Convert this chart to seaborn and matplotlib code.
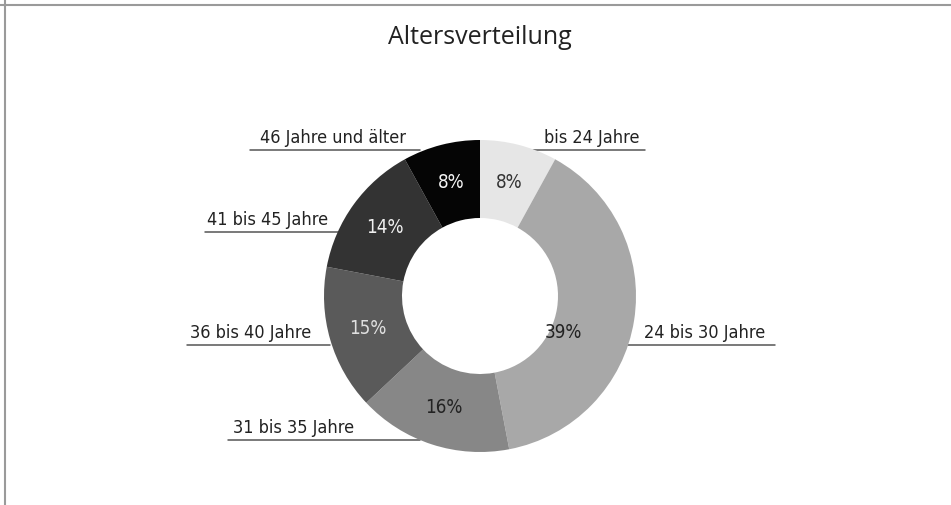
import matplotlib
matplotlib.use('Agg')
import matplotlib.pyplot as plt
from matplotlib.lines import Line2D
import seaborn as sns

# data
groups = ['bis 24 Jahre', '24 bis 30 Jahre', '31 bis 35 Jahre',
          '36 bis 40 Jahre', '41 bis 45 Jahre', '46 Jahre und älter']
shares = [8, 39, 16, 15, 14, 8]
slice_colors = ['#e6e6e6', '#a8a8a8', '#878787', '#5a5a5a', '#333333', '#050505']
pct_colors = ['#333333', '#222222', '#222222', '#e0e0e0', '#f0f0f0', '#f5f5f5']

sns.set_theme(style='white')
plt.rcParams['font.family'] = ['DejaVu Sans']
plt.rcParams['font.stretch'] = 'condensed'

fig = plt.figure(figsize=(9.51, 5.05), dpi=100)
ax = fig.add_axes([0, 0, 1, 1])

# pixel -> data helpers (center of donut at px 480/296, radius 156 px)
cx, cy, R = 480, 296, 156
def px(x):
    return (x - cx) / R
def py(y):
    return (cy - y) / R

wedges, texts, autotexts = ax.pie(
    shares, colors=slice_colors, startangle=90, counterclock=False,
    radius=1.0, wedgeprops=dict(width=0.5, edgecolor='none'),
    autopct='%d%%', pctdistance=0.75,
    textprops=dict(fontsize=13.5, fontstretch='condensed'))
for t, c in zip(autotexts, pct_colors):
    t.set_color(c)
# 39% label sits closer to the hole in the original
autotexts[1].set_position((px(563), py(332)))

# outer labels with underline
label_lines = [
    # text x, ha, line y, line x0, x1
    (592, 'center', 150, 533, 645),
    (705, 'center', 345, 628, 775),
    (233, 'left', 440, 228, 420),
    (190, 'left', 345, 187, 330),
    (207, 'left', 232, 205, 338),
    (260, 'left', 150, 250, 420),
]
for name, (tx, ha, ly, x0, x1) in zip(groups, label_lines):
    ax.plot([px(x0), px(x1)], [py(ly), py(ly)], color='#555555', lw=1.1,
            zorder=0)
    ax.text(px(tx), py(ly - 3), name, ha=ha, va='bottom', fontsize=13,
            fontstretch='condensed', color='#222222')

ax.text(px(480), py(38), 'Altersverteilung', ha='center', va='center',
        fontsize=18, color='#222222', fontstretch='normal',
        family=['Open Sans', 'DejaVu Sans'])

ax.set_xlim(px(0), px(951))
ax.set_ylim(py(505), py(0))
ax.set_aspect('auto')
ax.axis('off')

# thin frame on top and left
fig.add_artist(Line2D([0, 1], [1 - 4.5 / 505] * 2, color='#9a9a9a', lw=1.5))
fig.add_artist(Line2D([4.5 / 951] * 2, [0, 1], color='#9a9a9a', lw=1.5))

fig.savefig('out.png', dpi=100)
